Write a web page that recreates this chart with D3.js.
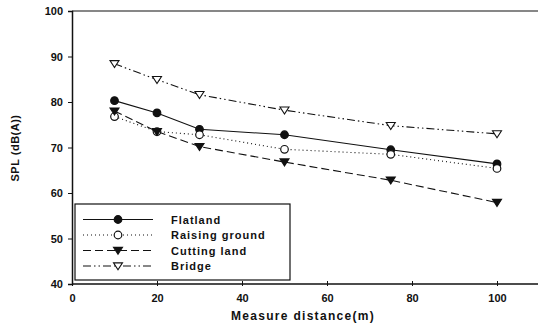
<!DOCTYPE html>
<html><head><meta charset="utf-8">
<script src="https://cdn.jsdelivr.net/npm/d3@7"></script>
<style>body{margin:0;background:#fff}svg{display:block}text{font-family:"Liberation Sans",Arial,sans-serif;font-weight:bold;fill:#111}</style>
</head><body>
<svg id="c" width="538" height="335"></svg>
<script>
const distances = [10, 20, 30, 50, 75, 100];
const flatland = [80.3, 77.6, 74.0, 72.8, 69.5, 66.4];
const raisingGround = [76.8, 73.5, 72.8, 69.6, 68.5, 65.4];
const cuttingLand = [78.0, 73.5, 70.2, 66.8, 62.8, 57.9];
const bridge = [88.4, 84.9, 81.6, 78.2, 74.8, 73.0];
const seriesNames = ["Flatland", "Raising ground", "Cutting land", "Bridge"];
const xTicks = [0, 20, 40, 60, 80, 100];
const yTicks = [40, 50, 60, 70, 80, 90, 100];

const svg = d3.select("#c");
const x = d3.scaleLinear().domain([0, 110]).range([72, 539.5]);
const y = d3.scaleLinear().domain([40, 100]).range([284, 11]);

const styles = [
  {dash: null, marker: "circle", fill: "#111"},
  {dash: "1,3", marker: "circle", fill: "#fff"},
  {dash: "8,4", marker: "tri", fill: "#111"},
  {dash: "8,3,1.5,3,1.5,3", marker: "tri", fill: "#fff"}
];
const allSeries = [flatland, raisingGround, cuttingLand, bridge];

svg.append("line").attr("x1", x(0)).attr("x2", 538).attr("y1", y(100)).attr("y2", y(100)).attr("stroke", "#111").attr("stroke-width", 1.2);

const yAxis = svg.append("g").attr("transform", `translate(${x(0)},0)`)
  .call(d3.axisLeft(y).tickValues(yTicks).tickSize(4).tickPadding(5).tickFormat(d3.format("d")));
const xAxis = svg.append("g").attr("transform", `translate(0,${y(40)})`)
  .call(d3.axisBottom(x).tickValues(xTicks).tickSize(3).tickPadding(7).tickFormat(d3.format("d")));
[yAxis, xAxis].forEach(a => {
  a.selectAll(".domain").attr("stroke", "#111").attr("stroke-width", 1.5);
  a.selectAll(".tick line").attr("stroke", "#111");
  a.selectAll("text").attr("font-size", 11).attr("font-weight", "bold").attr("font-family", "Liberation Sans, Arial, sans-serif").attr("fill", "#111");
});
xAxis.select(".domain").attr("d", `M${x(0)},0H538`);
xAxis.selectAll(".tick line").attr("y1", -3).attr("y2", 2);

function drawMarker(g, type, cx, cy, fill) {
  if (type === "circle") {
    g.append("circle").attr("cx", cx).attr("cy", cy).attr("r", 3.8)
      .attr("fill", fill).attr("stroke", "#111").attr("stroke-width", 1.2);
  } else {
    const s = 4.5;
    g.append("path").attr("d", `M${cx - s},${cy - s * 0.7}L${cx + s},${cy - s * 0.7}L${cx},${cy + s * 0.85}Z`)
      .attr("fill", fill).attr("stroke", "#111").attr("stroke-width", 1.1);
  }
}

const line = d3.line().x((d, i) => x(distances[i])).y(d => y(d));
allSeries.forEach((vals, k) => {
  const st = styles[k];
  svg.append("path").datum(vals).attr("d", line).attr("fill", "none")
    .attr("stroke", "#111").attr("stroke-width", 1.1).attr("stroke-dasharray", st.dash);
});
allSeries.forEach((vals, k) => {
  const st = styles[k];
  const g = svg.append("g");
  vals.forEach((v, i) => drawMarker(g, st.marker, x(distances[i]), y(v), st.fill));
});

const lg = svg.append("g");
lg.append("rect").attr("x", 75).attr("y", 204).attr("width", 215).attr("height", 76)
  .attr("fill", "#fff").attr("stroke", "#111").attr("stroke-width", 1.2);
seriesNames.forEach((name, k) => {
  const ly = 219.5 + k * 15.5;
  const st = styles[k];
  lg.append("line").attr("x1", 83).attr("x2", 153).attr("y1", ly).attr("y2", ly)
    .attr("stroke", "#111").attr("stroke-width", 1.1).attr("stroke-dasharray", st.dash);
  drawMarker(lg, st.marker, 118, ly, st.fill);
  lg.append("text").attr("x", 171).attr("y", ly + 4).attr("font-size", 11)
    .attr("letter-spacing", 1).text(name);
});

svg.append("text").attr("x", 303).attr("y", 320).attr("text-anchor", "middle")
  .attr("font-size", 12).attr("letter-spacing", 1.3).text("Measure distance(m)");
svg.append("text").attr("transform", "translate(19,148) rotate(-90)").attr("text-anchor", "middle")
  .attr("font-size", 11).attr("letter-spacing", 0.5).text("SPL (dB(A))");
</script>
</body></html>
